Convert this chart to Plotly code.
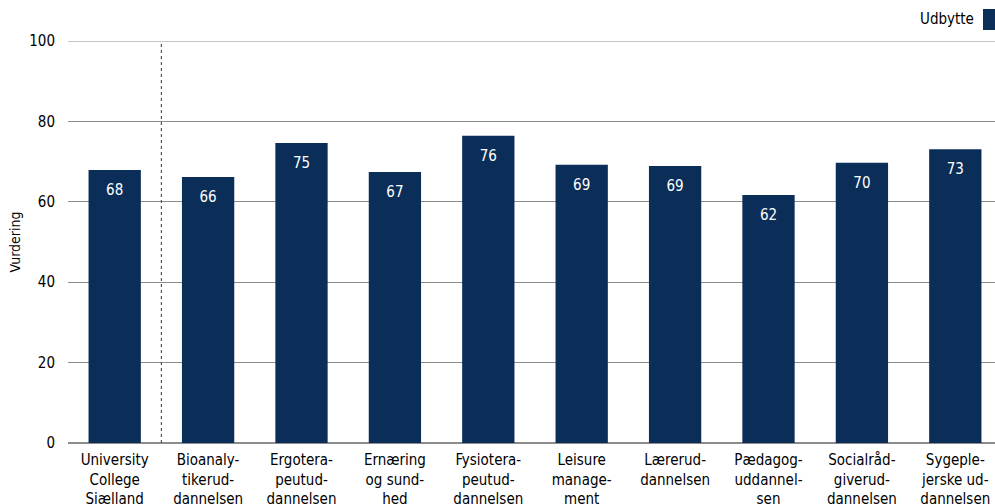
import plotly.graph_objects as go

categories = [
    "University<br>College<br>Sjælland",
    "Bioanaly-<br>tikerud-<br>dannelsen",
    "Ergotera-<br>peutud-<br>dannelsen",
    "Ernæring<br>og sund-<br>hed",
    "Fysiotera-<br>peutud-<br>dannelsen",
    "Leisure<br>manage-<br>ment",
    "Lærerud-<br>dannelsen",
    "Pædagog-<br>uddannel-<br>sen",
    "Socialråd-<br>giverud-<br>dannelsen",
    "Sygeple-<br>jerske ud-<br>dannelsen",
]
values = [67.9, 66.2, 74.6, 67.4, 76.4, 69.2, 68.9, 61.7, 69.7, 73.1]
labels = ["68", "66", "75", "67", "76", "69", "69", "62", "70", "73"]
series_name = "Udbytte"
y_title = "Vurdering"
y_ticks = [0, 20, 40, 60, 80, 100]

FONT = "'DejaVu Sans Condensed', 'DejaVu Sans', sans-serif"
BAR = "#0b2e59"
GRID = "#8c8c8c"

x = list(range(len(categories)))

fig = go.Figure()
fig.add_trace(go.Bar(
    x=x, y=values, name=series_name,
    marker=dict(color=BAR, line=dict(width=0)),
    width=0.56, showlegend=False, hoverinfo="y",
))
# value labels inside the bars, a little below each top
fig.add_trace(go.Scatter(
    x=x, y=[v - 5.3 for v in values], mode="text", text=labels,
    textposition="middle center",
    textfont=dict(color="white", size=15, family=FONT),
    showlegend=False, hoverinfo="skip",
))

# top gridline at 100
fig.add_shape(type="line", xref="x domain", yref="y", x0=0, x1=1, y0=100, y1=100,
              line=dict(color=GRID, width=1), layer="below")
# dotted separator after first category
fig.add_shape(type="line", xref="x", yref="y", x0=0.5, x1=0.5, y0=0, y1=100,
              line=dict(color="#555555", width=1.2, dash="dot"), layer="above")

# legend (text + swatch on the right)
fig.add_annotation(xref="paper", yref="paper", x=(976 - 68) / 927, y=1 + (41 - 19) / 402,
                   text=series_name, showarrow=False, xanchor="right", yanchor="middle",
                   font=dict(size=15, family=FONT, color="black"))
fig.add_shape(type="rect", xref="paper", yref="paper",
              x0=(983 - 68) / 927, x1=(997 - 68) / 927,
              y0=1 + (41 - 30) / 402, y1=1 + (41 - 9) / 402,
              fillcolor=BAR, line=dict(width=0))

fig.update_layout(
    width=995, height=504,
    margin=dict(l=68, r=0, t=41, b=61, autoexpand=False),
    paper_bgcolor="white", plot_bgcolor="white",
    font=dict(family=FONT, size=14, color="black"),
    showlegend=False,
)
fig.update_xaxes(
    range=[-0.5, 9.425], automargin=False,
    tickmode="array", tickvals=x, ticktext=categories,
    showgrid=False, zeroline=False, showline=False, ticks="",
    ticklabelstandoff=6,
    tickfont=dict(size=15, family=FONT, color="black"),
)
fig.update_yaxes(
    range=[0, 100], tickvals=y_ticks, automargin=False,
    showgrid=True, gridcolor=GRID, gridwidth=1,
    zeroline=True, zerolinecolor=GRID, zerolinewidth=1.5,
    showline=False, ticks="", ticklabelstandoff=12,
    tickfont=dict(size=15, family=FONT, color="black"),
    title=dict(text=y_title, font=dict(size=14, family=FONT, color="black"), standoff=5),
)

fig.write_html("out.html", config={"displayModeBar": False},
               post_script="document.body.style.margin='0';document.body.style.overflow='hidden';")
